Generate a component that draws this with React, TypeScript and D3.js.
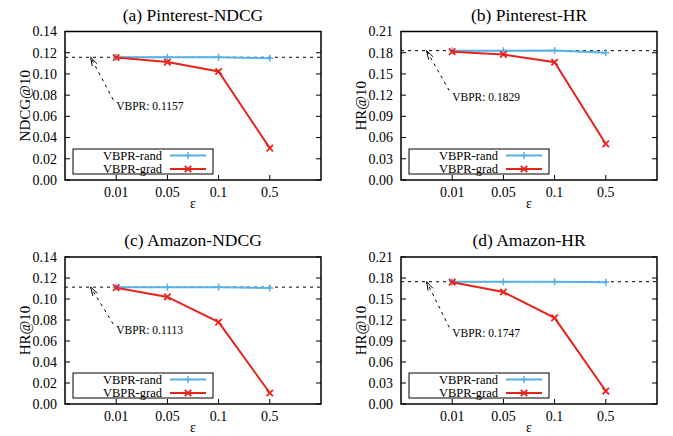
import React from "react";
import * as d3 from "d3";

const categories = ["0.01", "0.05", "0.1", "0.5"];
const titles = ["(a) Pinterest-NDCG", "(b) Pinterest-HR", "(c) Amazon-NDCG", "(d) Amazon-HR"];
const yLabels = ["NDCG@10", "HR@10", "HR@10", "HR@10"];
const yMaxes = [0.14, 0.21, 0.14, 0.21];
const yStepSizes = [0.02, 0.03, 0.02, 0.03];
const randValues = [
  [0.1157, 0.1157, 0.1157, 0.1147],
  [0.1829, 0.1829, 0.1830, 0.1800],
  [0.1113, 0.1113, 0.1113, 0.1105],
  [0.1747, 0.1747, 0.1747, 0.1740],
];
const gradValues = [
  [0.1155, 0.1112, 0.1023, 0.0300],
  [0.1815, 0.1775, 0.1665, 0.0510],
  [0.1108, 0.1020, 0.0780, 0.0105],
  [0.1740, 0.1600, 0.1230, 0.0185],
];
const vbprValues = [0.1157, 0.1829, 0.1113, 0.1747];
const vbprLabelY = [0.07, 0.118, 0.0705, 0.101];
const seriesNames = ["VBPR-rand", "VBPR-grad"];

const BLUE = "#56b1e6";
const RED = "#e8231c";
const FONT = "'Liberation Serif', 'Times New Roman', serif";

const panelBoxes = [
  { left: 65, top: 31.5, right: 321, bottom: 180 },
  { left: 401, top: 31.5, right: 657, bottom: 180 },
  { left: 65, top: 257, right: 321, bottom: 404 },
  { left: 401, top: 257, right: 657, bottom: 404 },
];

function Panel({ i }: { i: number }) {
  const b = panelBoxes[i];
  const x = d3.scaleLinear().domain([0, categories.length + 1]).range([b.left, b.right]);
  const y = d3.scaleLinear().domain([0, yMaxes[i]]).range([b.bottom, b.top]);
  const nT = Math.round(yMaxes[i] / yStepSizes[i]);
  const yTicks = d3.range(nT + 1).map((k) => k * yStepSizes[i]);
  const line = d3
    .line<number>()
    .x((_, k) => x(k + 1))
    .y((v) => y(v));
  const cx = (b.left + b.right) / 2;
  const cy = (b.top + b.bottom) / 2;

  // annotation arrow
  const tipX = x(0.5);
  const tipY = y(vbprValues[i]);
  const labX = x(1.0);
  const labY = y(vbprLabelY[i]);
  const tailX = labX - 3;
  const tailY = labY - 6;
  const ang = Math.atan2(tailY - tipY, tailX - tipX);
  const hl = 9;
  const ha = 0.3;
  const h1 = [tipX + hl * Math.cos(ang + ha), tipY + hl * Math.sin(ang + ha)];
  const h2 = [tipX + hl * Math.cos(ang - ha), tipY + hl * Math.sin(ang - ha)];

  // legend
  const lg = { left: b.left + 8, right: b.left + 148, top: b.bottom - 31, bottom: b.bottom - 6 };
  const rowY = [lg.top + 6.5, lg.top + 20];

  const plus = (px: number, py: number, s = 3.5) =>
    `M${px - s},${py}L${px + s},${py}M${px},${py - s}L${px},${py + s}`;
  const cross = (px: number, py: number, s = 3.2) =>
    `M${px - s},${py - s}L${px + s},${py + s}M${px - s},${py + s}L${px + s},${py - s}`;

  return (
    <g fontFamily={FONT}>
      <text x={cx} y={b.top - 11} textAnchor="middle" fontSize={17.5} fill="#000">
        {titles[i]}
      </text>
      {/* y ticks */}
      {yTicks.map((t) => (
        <g key={t}>
          <line x1={b.left} x2={b.left + 5} y1={y(t)} y2={y(t)} stroke="#000" strokeWidth={1} />
          <line x1={b.right} x2={b.right - 5} y1={y(t)} y2={y(t)} stroke="#000" strokeWidth={1} />
          <text x={b.left - 8} y={y(t)} dy="0.35em" textAnchor="end" fontSize={14}>
            {t.toFixed(2)}
          </text>
        </g>
      ))}
      {categories.map((c, k) => (
        <g key={c}>
          <line x1={x(k + 1)} x2={x(k + 1)} y1={b.bottom} y2={b.bottom - 5} stroke="#000" strokeWidth={1} />
          <text x={x(k + 1)} y={b.bottom + 17} textAnchor="middle" fontSize={14}>
            {c}
          </text>
        </g>
      ))}
      <text x={cx} y={b.bottom + 28} textAnchor="middle" fontSize={14}>
        ε
      </text>
      <text
        transform={`translate(${b.left - 40},${cy}) rotate(-90)`}
        textAnchor="middle"
        dy="0.35em"
        fontSize={15}
      >
        {yLabels[i]}
      </text>
      {/* baseline */}
      <line x1={b.left} x2={b.right} y1={tipY} y2={tipY} stroke="#000" strokeWidth={1} strokeDasharray="3,4" />
      {/* arrow */}
      <line x1={tailX} y1={tailY} x2={tipX} y2={tipY} stroke="#000" strokeWidth={1} strokeDasharray="3,4" />
      <path d={`M${h1[0]},${h1[1]}L${tipX},${tipY}L${h2[0]},${h2[1]}`} fill="none" stroke="#000" strokeWidth={1} />
      <text x={labX} y={labY} dy="0.35em" fontSize={11.5}>
        VBPR: {vbprValues[i].toFixed(4)}
      </text>
      {/* series */}
      <path d={line(randValues[i]) || ""} fill="none" stroke={BLUE} strokeWidth={2} />
      {randValues[i].map((v, k) => (
        <path key={k} d={plus(x(k + 1), y(v))} stroke={BLUE} strokeWidth={1.5} />
      ))}
      <path d={line(gradValues[i]) || ""} fill="none" stroke={RED} strokeWidth={2} />
      {gradValues[i].map((v, k) => (
        <path key={k} d={cross(x(k + 1), y(v))} stroke={RED} strokeWidth={1.8} />
      ))}
      {/* legend */}
      <rect
        x={lg.left}
        y={lg.top}
        width={lg.right - lg.left}
        height={lg.bottom - lg.top}
        fill="#fff"
        stroke="#000"
        strokeWidth={1}
      />
      {seriesNames.map((s, k) => (
        <g key={s}>
          <text x={lg.left + 89} y={rowY[k]} dy="0.33em" textAnchor="end" fontSize={12.5}>
            {s}
          </text>
          <line
            x1={lg.left + 97}
            x2={lg.left + 133}
            y1={rowY[k]}
            y2={rowY[k]}
            stroke={k === 0 ? BLUE : RED}
            strokeWidth={2}
          />
          <path
            d={k === 0 ? plus(lg.left + 115, rowY[k]) : cross(lg.left + 115, rowY[k])}
            stroke={k === 0 ? BLUE : RED}
            strokeWidth={k === 0 ? 1.5 : 1.8}
          />
        </g>
      ))}
      {/* frame */}
      <rect
        x={b.left}
        y={b.top}
        width={b.right - b.left}
        height={b.bottom - b.top}
        fill="none"
        stroke="#000"
        strokeWidth={1.5}
      />
    </g>
  );
}

export default function App() {
  return (
    <svg
      width={673}
      height={436}
      style={{ position: "absolute", left: 0, top: 0, display: "block", background: "#fff" }}
    >
      <rect width={673} height={436} fill="#fff" />
      {[0, 1, 2, 3].map((i) => (
        <Panel key={i} i={i} />
      ))}
    </svg>
  );
}
